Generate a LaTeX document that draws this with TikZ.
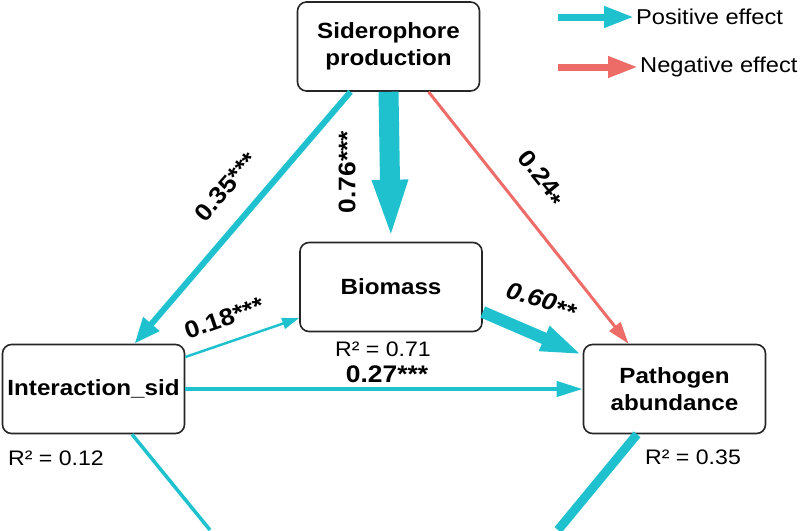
\documentclass[tikz,border=0pt]{standalone}
\usepackage{fontspec}
\setmainfont{Liberation Sans}[FakeStretch=1.1]
\usetikzlibrary{arrows.meta}
\definecolor{posc}{RGB}{30,193,205}
\definecolor{negc}{RGB}{238,108,104}
\begin{document}
\begin{tikzpicture}[x=1pt,y=-1pt,
  box/.style={draw=black!85,line width=1.6pt,rounded corners=9pt,minimum width=182pt,minimum height=89pt,inner sep=0pt,align=center,font=\fontsize{22}{27}\selectfont\bfseries,fill=white},
  rlab/.style={font=\fontsize{21}{24}\selectfont,inner sep=0pt},
  elab/.style={font=\fontsize{24}{26}\selectfont\bfseries,inner sep=0pt},
  legtext/.style={font=\fontsize{21.5}{24}\selectfont,anchor=west,inner sep=2pt},
]
\useasboundingbox (0,0) rectangle (800,530);
% nodes
\node[box] (sid) at (388.5,46.5) {Siderophore\\production};
\node[box] (bio) at (391,287) {Biomass};
\node[box] (int) at (93.5,389) {Interaction\_sid};
\node[box] (pat) at (674.5,389) {Pathogen\\abundance};
% R2 labels
\node[rlab,anchor=west] (r1) at (8,458) {R² = 0.12};
\node[rlab,anchor=west] (r2) at (335,349) {R² = 0.71};
\node[rlab,anchor=west] (r3) at (645,457) {R² = 0.35};
% off-picture ends
\coordinate (e1) at (210,530);
\coordinate (e2) at (558,530);
% connectors
\draw[posc,line width=6pt,-{Triangle[length=26pt,width=20pt]}] ([xshift=-38pt]sid.south) -- ([xshift=41pt]int.north);
\draw[posc,line width=20pt,-{Triangle[length=62pt,width=31pt]}] (sid.south) -- (bio.north);
\draw[negc,line width=3pt,-{Triangle[length=22pt,width=14pt]}] ([xshift=40pt]sid.south) -- ([xshift=-46pt]pat.north);
\draw[posc,line width=2.5pt,-{Triangle[length=17pt,width=11pt]}] ([yshift=32pt]int.east) -- ([yshift=-31pt]bio.west);
\draw[posc,line width=12pt,-{Triangle[length=42pt,width=24pt]}] ([yshift=-25pt]bio.east) -- ([yshift=34pt]pat.west);
\draw[posc,line width=4pt,-{Triangle[length=26pt,width=15pt]}] (int.east) -- (pat.west);
\draw[posc,line width=3.5pt] ([xshift=38.5pt]int.south) -- (e1);
\draw[posc,line width=9pt] ([xshift=-37.5pt]pat.south) -- (e2);
% edge labels
\node[elab,rotate=49] (l35) at (226,187) {0.35***};
\node[elab,rotate=90] (l76) at (347,172) {0.76***};
\node[elab,rotate=-51] (l24) at (540,179) {0.24\raisebox{-7pt}{*}};
\node[elab,rotate=19] (l18) at (224,318) {0.18***};
\node[elab,rotate=-16] (l60) at (541,301) {\itshape 0.60\raisebox{-4pt}{**}};
\node[elab] (l27) at (387,374) {0.27***};
% legend
\node[legtext] (lpos) at (634,17) {Positive effect};
\node[legtext] (lneg) at (638,67) {Negative effect};
\coordinate (lp0) at (558,17);
\coordinate (ln0) at (558,67);
\draw[posc,line width=7pt,-{Triangle[length=30pt,width=20pt]}] (lp0) -- (lpos.west);
\draw[negc,line width=7pt,-{Triangle[length=30pt,width=20pt]}] (ln0) -- (lneg.west);
\end{tikzpicture}
\end{document}
